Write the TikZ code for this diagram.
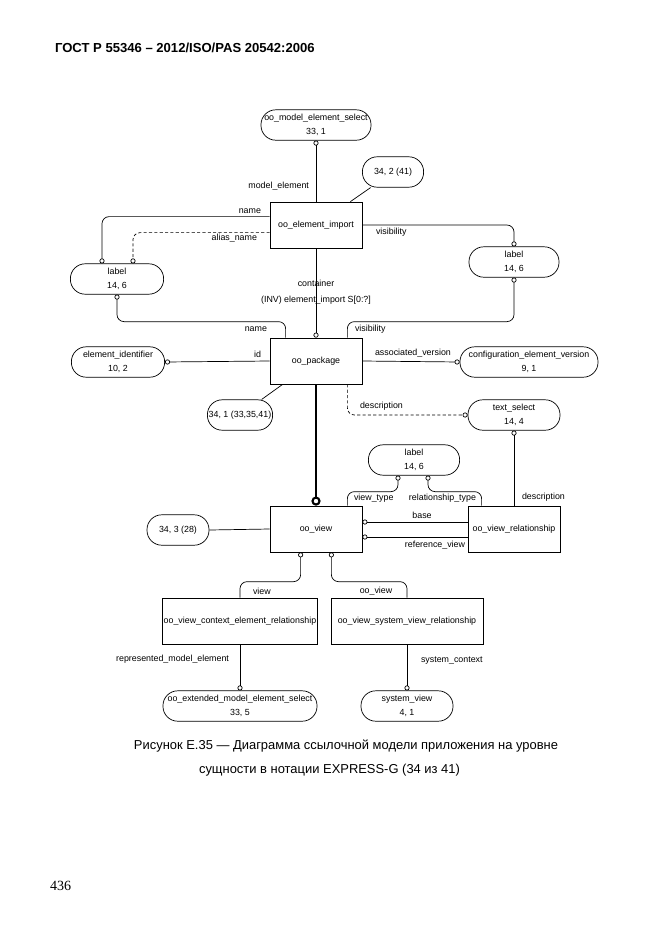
\documentclass[tikz,border=0pt]{standalone}
\usepackage{fontspec}
\setmainfont{Liberation Sans}
\newfontfamily\pagefont{Liberation Serif}
\usetikzlibrary{arrows.meta,calc}

\begin{document}
\begin{tikzpicture}[x=0.025cm, y=-0.025cm, line width=0.5pt]

  \tikzstyle{every node} = [font=\fontsize{6.3}{10}\selectfont]
  \tikzstyle{entity} = [draw, minimum width=2.3cm, minimum height=1.15cm, inner sep=1pt]
  \tikzstyle{pill} = [draw, rounded corners=0.37cm, minimum height=0.76cm, align=center, inner sep=0.5pt]
  \tikzstyle{attr} = [-{Circle[open,length=3.6pt]}, rounded corners=5pt]
  \tikzstyle{attrback} = [{Circle[open,length=3.6pt]}-, rounded corners=5pt]
  \tikzstyle{opt} = [dash pattern=on 2.2pt off 1.6pt]
  \tikzstyle{super} = [line width=1.7pt, -{Circle[open,length=6.5pt,line width=1.5pt]}]

  \useasboundingbox (0,0) rectangle (662,935);

  \node[anchor=west, font=\bfseries\fontsize{9.3}{11}\selectfont] (hdr) at (50,48) {ГОСТ Р 55346 – 2012/ISO/PAS 20542:2006};

  \node[pill, minimum width=2.75cm] (selme) at (316,125) {oo\_model\_element\_select\\33, 1};
  \node[pill, minimum width=1.53cm] (ref2) at (393,172) {34, 2 (41)};
  \node[entity] (imp) at (316,225) {oo\_element\_import};
  \node[pill, minimum width=2.33cm] (lbll) at (117,279) {label\\14, 6};
  \node[pill, minimum width=2.25cm] (lblr) at (514,262) {label\\14, 6};

  \node[entity] (pkg) at (316,361) {oo\_package};
  \node[pill, minimum width=2.33cm] (eid) at (118,362) {element\_identifier\\10, 2};
  \node[pill, minimum width=3.45cm] (cev) at (529,362) {configuration\_element\_version\\9, 1};
  \node[pill, minimum width=2.3cm] (txt) at (514,415) {text\_select\\14, 4};
  \node[pill, minimum width=1.63cm, inner sep=0pt] (ref1) at (240,415) {34, 1 (33,35,41)};

  \node[pill, minimum width=2.28cm] (lblm) at (414,460) {label\\14, 6};
  \node[entity] (view) at (316,529) {oo\_view};
  \node[pill, minimum width=1.55cm] (ref3) at (178,530) {34, 3 (28)};
  \node[entity] (vrel) at (514,529) {oo\_view\_relationship};

  \node[entity, minimum width=3.83cm] (ctx) at (240,621) {oo\_view\_context\_element\_relationship};
  \node[entity, minimum width=3.8cm] (svr) at (407,621) {oo\_view\_system\_view\_relationship};
  \node[pill, minimum width=3.85cm] (ext) at (240,706) {oo\_extended\_model\_element\_select\\33, 5};
  \node[pill, minimum width=2.3cm] (sysv) at (407,706) {system\_view\\4, 1};

  \draw[attr] (imp.north) -- (selme.south);
  \draw ($(imp.north east)+(-12,0)$) -- (ref2);
  \draw[attr] ($(imp.north west)+(0,15)$) -| ($(lbll.north)+(-15,0)$);
  \draw[attr, opt] ($(imp.north west)+(0,31)$) -| ($(lbll.north)+(16,0)$);
  \draw[attr] (imp.east) -| (lblr.north);
  \draw[attrback] (lblr.south) |- ($(pkg.north east)+(-15,-16)$) -- ($(pkg.north east)+(-15,0)$);
  \draw[attrback] (lbll.south) |- ($(pkg.north west)+(16,-16)$) -- ($(pkg.north west)+(16,0)$);
  \draw[attr] (imp.south) -- (pkg.north);

  \draw[attr] (pkg.west) -- (eid.east);
  \draw[attr] (pkg.east) -- (cev.west);
  \draw[attr, opt] ($(pkg.south east)+(-15,0)$) |- (txt.west);
  \draw[attrback] (txt.south) -- (vrel.north);
  \draw ($(pkg.south west)+(13,0)$) -- (ref1);
  \draw[super] (pkg.south) -- (view.north);

  \draw (view.west) -- (ref3.east);
  \draw[attr] ($(vrel.west)+(0,-7)$) -- ($(view.east)+(0,-7)$);
  \draw[attr] ($(vrel.west)+(0,8)$) -- ($(view.east)+(0,8)$);
  \draw[attrback] ($(lblm.south)+(-16,0)$) |- ($(view.north east)+(-15,-14)$) -- ($(view.north east)+(-15,0)$);
  \draw[attrback] ($(lblm.south)+(14,0)$) |- ($(vrel.north west)+(14,-14)$) -- ($(vrel.north west)+(14,0)$);
  \draw[attrback] ($(view.south west)+(31,0)$) |- ($(ctx.north)+(0,-16)$) -- (ctx.north);
  \draw[attrback] ($(view.south east)+(-31,0)$) |- ($(svr.north)+(0,-16)$) -- (svr.north);
  \draw[attr] (ctx.south) -- (ext.north);
  \draw[attr] (svr.south) -- (sysv.north);

  \node[anchor=east] (lme) at (314,186) {model\_element};
  \node[anchor=east] (lname1) at (266,211) {name};
  \node[anchor=east] (lalias) at (262,238) {alias\_name};
  \node[anchor=west] (lvis1) at (371,232) {visibility};
  \node (lcont) at (316,283) {container};
  \node (linv) at (316,300) {(INV) element\_import S[0:?]};
  \node[anchor=east] (lname2) at (272,329) {name};
  \node[anchor=west] (lvis2) at (350,329) {visibility};
  \node[anchor=east] (lid) at (266,354) {id};
  \node[anchor=west] (lassoc) at (370,353) {associated\_version};
  \node[anchor=west] (ldesc1) at (355,406) {description};
  \node[anchor=west] (ldesc2) at (517,497) {description};
  \node[anchor=west] (lvtype) at (349,498) {view\_type};
  \node[anchor=east] (lrtype) at (481,498) {relationship\_type};
  \node (lbase) at (422,515) {base};
  \node (lref) at (435,545) {reference\_view};
  \node[anchor=west] (lview) at (248,591) {view};
  \node (loov) at (376,591) {oo\_view};
  \node[anchor=east] (lrme) at (234,659) {represented\_model\_element};
  \node[anchor=west] (lsc) at (416,661) {system\_context};

  \node[font=\fontsize{9.2}{11}\selectfont] (cap1) at (346,746) {Рисунок Е.35 — Диаграмма ссылочной модели приложения на уровне};
  \node[anchor=west, font=\fontsize{9.2}{11}\selectfont] (cap2) at (194,770) {сущности в нотации EXPRESS-G (34 из 41)};
  \node[anchor=west, font=\pagefont\fontsize{10}{12}\selectfont] (pnum) at (45,886) {436};

\end{tikzpicture}
\end{document}
